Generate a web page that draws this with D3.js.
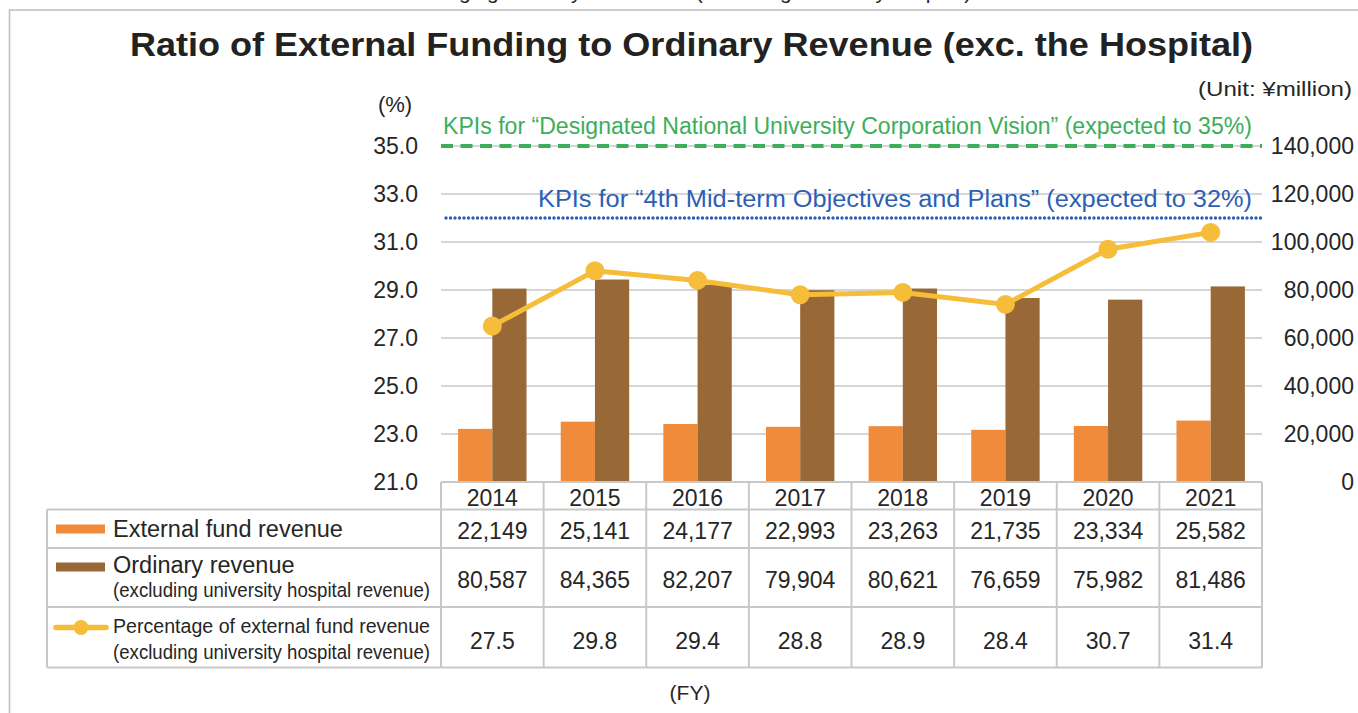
<!DOCTYPE html>
<html>
<head>
<meta charset="utf-8">
<script src="https://cdn.jsdelivr.net/npm/d3@7"></script>
<style>
  body { margin: 0; background: #fff; }
  svg { display: block; font-family: "Liberation Sans", Arial, sans-serif; }
</style>
</head>
<body>
<div id="chart"></div>
<script>
// data
const years = ["2014", "2015", "2016", "2017", "2018", "2019", "2020", "2021"];
const externalFund = [22149, 25141, 24177, 22993, 23263, 21735, 23334, 25582];
const ordinaryRevenue = [80587, 84365, 82207, 79904, 80621, 76659, 75982, 81486];
const externalPct = [27.5, 29.8, 29.4, 28.8, 28.9, 28.4, 30.7, 31.4];
const pctTicks = [21, 23, 25, 27, 29, 31, 33, 35];
const yenTicks = [0, 20000, 40000, 60000, 80000, 100000, 120000, 140000];
const kpiValues = [35, 32];
const kpiLabels = [
  "KPIs for \u201cDesignated National University Corporation Vision\u201d (expected to 35%)",
  "KPIs for \u201c4th Mid-term Objectives and Plans\u201d (expected to 32%)"
];
const seriesNames = ["External fund revenue", "Ordinary revenue", "Percentage of external fund revenue"];

const width = 1358, height = 713;
const plotL = 441, plotR = 1262, plotT = 146, plotB = 482;
const textColor = "#262626";
const gridColor = "#c9c9c9";
const orange = "#ef8b3a", brown = "#986936", yellow = "#f5bd3a";
const green = "#3cae5a", blue = "#2c5fb4";

const svg = d3.select("#chart").append("svg")
  .attr("width", width)
  .attr("height", height);

// outer frame (partly cut off)
svg.append("path")
  .attr("d", `M9.5,${height} V10 H${width}`)
  .attr("fill", "none")
  .attr("stroke", "#bdbdbd")
  .attr("stroke-width", 1.5);

// caption of the previous block, mostly outside the page
svg.append("text")
  .attr("x", 690).attr("y", -1)
  .attr("text-anchor", "middle")
  .attr("font-size", 21)
  .attr("fill", textColor)
  .text("Changing Ratio by Fiscal Year (excluding university hospital)");

const x = d3.scaleBand().domain(years).range([plotL, plotR]);
const xs = d3.scaleBand().domain(["ext", "ord"]).range([0, x.bandwidth()]).paddingOuter(0.5);
const yPct = d3.scaleLinear().domain([21, 35]).range([plotB, plotT]);
const yYen = d3.scaleLinear().domain([0, 140000]).range([plotB, plotT]);

// title
svg.append("text")
  .attr("x", 130).attr("y", 56)
  .attr("font-size", 33)
  .attr("font-weight", "bold")
  .attr("fill", "#222")
  .attr("textLength", 1123).attr("lengthAdjust", "spacingAndGlyphs")
  .text("Ratio of External Funding to Ordinary Revenue (exc. the Hospital)");

svg.append("text")
  .attr("x", 1198).attr("y", 96)
  .attr("font-size", 21)
  .attr("fill", textColor)
  .attr("textLength", 154).attr("lengthAdjust", "spacingAndGlyphs")
  .text("(Unit: \u00a5million)");

svg.append("text")
  .attr("x", 395).attr("y", 112)
  .attr("text-anchor", "middle")
  .attr("font-size", 22)
  .attr("fill", textColor)
  .text("(%)");

// gridlines
svg.append("g").selectAll("line")
  .data(pctTicks.slice(1))
  .join("line")
  .attr("x1", plotL).attr("x2", plotR)
  .attr("y1", d => yPct(d)).attr("y2", d => yPct(d))
  .attr("stroke", gridColor)
  .attr("stroke-width", 1.5);

// axes
const leftAxis = svg.append("g")
  .attr("transform", `translate(${plotL},0)`)
  .call(d3.axisLeft(yPct).tickValues(pctTicks).tickFormat(d3.format(".1f")).tickSize(0).tickPadding(23));
const rightAxis = svg.append("g")
  .attr("transform", `translate(${plotR},0)`)
  .call(d3.axisRight(yYen).tickValues(yenTicks).tickFormat(d3.format(",")).tickSize(0));
rightAxis.selectAll("text").attr("text-anchor", "end").attr("x", 1354 - plotR);
[leftAxis, rightAxis].forEach(a => {
  a.select(".domain").remove();
  a.selectAll("text")
    .attr("font-size", 23)
    .attr("font-family", "'Liberation Sans', Arial, sans-serif")
    .attr("fill", textColor);
});

// bars
const bars = svg.append("g");
bars.selectAll(".ext")
  .data(years)
  .join("rect")
  .attr("class", "ext")
  .attr("x", d => x(d) + xs("ext"))
  .attr("width", xs.bandwidth())
  .attr("y", (d, i) => yYen(externalFund[i]))
  .attr("height", (d, i) => plotB - yYen(externalFund[i]))
  .attr("fill", orange);
bars.selectAll(".ord")
  .data(years)
  .join("rect")
  .attr("class", "ord")
  .attr("x", d => x(d) + xs("ord"))
  .attr("width", xs.bandwidth())
  .attr("y", (d, i) => yYen(ordinaryRevenue[i]))
  .attr("height", (d, i) => plotB - yYen(ordinaryRevenue[i]))
  .attr("fill", brown);

// KPI target lines
svg.append("line")
  .attr("x1", plotL).attr("x2", plotR)
  .attr("y1", yPct(kpiValues[0])).attr("y2", yPct(kpiValues[0]))
  .attr("stroke", green).attr("stroke-width", 4)
  .attr("stroke-dasharray", "12,7.5");
svg.append("line")
  .attr("x1", plotL + 5).attr("x2", plotR)
  .attr("y1", yPct(kpiValues[1])).attr("y2", yPct(kpiValues[1]))
  .attr("stroke", blue).attr("stroke-width", 3.4)
  .attr("stroke-linecap", "round")
  .attr("stroke-dasharray", "0,4.5");

svg.append("text")
  .attr("x", 443).attr("y", 134)
  .attr("font-size", 23)
  .attr("fill", green)
  .attr("textLength", 809).attr("lengthAdjust", "spacingAndGlyphs")
  .text(kpiLabels[0]);
svg.append("text")
  .attr("x", 538).attr("y", 207)
  .attr("font-size", 23)
  .attr("fill", blue)
  .attr("textLength", 714).attr("lengthAdjust", "spacingAndGlyphs")
  .text(kpiLabels[1]);

// percentage line
const cx = d => x(d) + x.bandwidth() / 2;
svg.append("path")
  .datum(years)
  .attr("d", d3.line().x(cx).y((d, i) => yPct(externalPct[i])))
  .attr("fill", "none")
  .attr("stroke", yellow)
  .attr("stroke-width", 5);
svg.append("g").selectAll("circle")
  .data(years)
  .join("circle")
  .attr("cx", cx)
  .attr("cy", (d, i) => yPct(externalPct[i]))
  .attr("r", 9.5)
  .attr("fill", yellow);

// data table
const tableLeft = 47;
const rowEdges = [plotB, 509.5, 548, 607, 667.5];
const border = "#c8c8c8";
const tbl = svg.append("g").attr("stroke", border).attr("stroke-width", 2).attr("fill", "none");
tbl.append("line").attr("x1", plotL).attr("x2", plotR).attr("y1", rowEdges[0]).attr("y2", rowEdges[0]);
rowEdges.slice(1).forEach(y => {
  tbl.append("line").attr("x1", tableLeft).attr("x2", plotR).attr("y1", y).attr("y2", y);
});
tbl.append("line").attr("x1", tableLeft).attr("x2", tableLeft).attr("y1", rowEdges[1]).attr("y2", rowEdges[4]);
tbl.selectAll(".col")
  .data(years)
  .join("line")
  .attr("x1", d => x(d)).attr("x2", d => x(d))
  .attr("y1", rowEdges[0]).attr("y2", rowEdges[4]);
tbl.append("line").attr("x1", plotR).attr("x2", plotR).attr("y1", rowEdges[0]).attr("y2", rowEdges[4]);

const cells = svg.append("g")
  .attr("text-anchor", "middle")
  .attr("font-size", 23)
  .attr("fill", textColor);
const rows = [
  { vals: years, base: 506 },
  { vals: externalFund.map(d3.format(",")), base: 539 },
  { vals: ordinaryRevenue.map(d3.format(",")), base: 588 },
  { vals: externalPct.map(d3.format(".1f")), base: 649 }
];
rows.forEach(r => {
  cells.append("g").selectAll("text")
    .data(years)
    .join("text")
    .attr("x", cx)
    .attr("y", r.base)
    .text((d, i) => r.vals[i]);
});

// legend column
const leg = svg.append("g").attr("fill", textColor);
leg.append("rect").attr("x", 56).attr("y", 524.5).attr("width", 49).attr("height", 9).attr("fill", orange);
leg.append("text").attr("x", 113).attr("y", 537).attr("font-size", 23.5).text(seriesNames[0]);
leg.append("rect").attr("x", 56).attr("y", 562.5).attr("width", 49).attr("height", 9).attr("fill", brown);
leg.append("text").attr("x", 113).attr("y", 573).attr("font-size", 23.5).text(seriesNames[1]);
leg.append("text").attr("x", 113).attr("y", 597).attr("font-size", 20.5)
  .attr("textLength", 317).attr("lengthAdjust", "spacingAndGlyphs")
  .text("(excluding university hospital revenue)");
leg.append("line").attr("x1", 56).attr("x2", 106).attr("y1", 627.5).attr("y2", 627.5)
  .attr("stroke", yellow).attr("stroke-width", 5.5).attr("stroke-linecap", "round");
leg.append("circle").attr("cx", 81).attr("cy", 627.5).attr("r", 7.5).attr("fill", yellow);
leg.append("text").attr("x", 113).attr("y", 633).attr("font-size", 20.5)
  .attr("textLength", 317).attr("lengthAdjust", "spacingAndGlyphs")
  .text(seriesNames[2]);
leg.append("text").attr("x", 113).attr("y", 659).attr("font-size", 20.5)
  .attr("textLength", 317).attr("lengthAdjust", "spacingAndGlyphs")
  .text("(excluding university hospital revenue)");

svg.append("text")
  .attr("x", 690).attr("y", 700)
  .attr("text-anchor", "middle")
  .attr("font-size", 21)
  .attr("fill", textColor)
  .text("(FY)");
</script>
</body>
</html>
